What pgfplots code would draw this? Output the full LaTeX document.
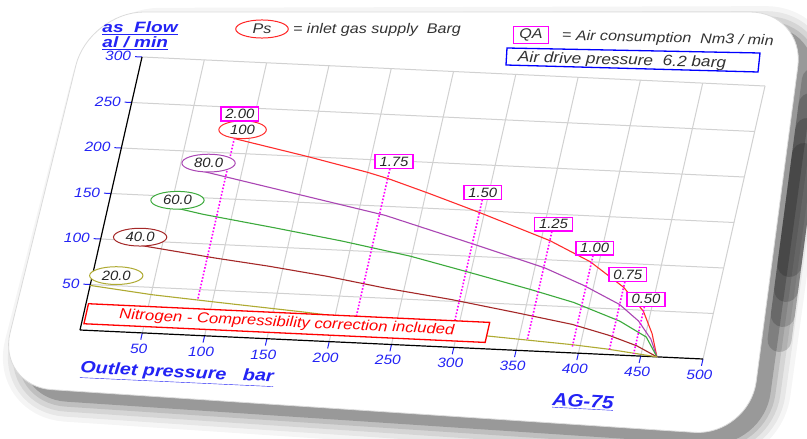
\documentclass[border=0pt]{standalone}
\usepackage{pgfplots}
\pgfplotsset{compat=1.18}
\usepackage{fontspec}
\setmainfont{Liberation Sans}
\usetikzlibrary{shapes.geometric}

\definecolor{tickblue}{RGB}{35,35,245}
\definecolor{c100}{RGB}{255,45,45}
\definecolor{c80}{RGB}{170,70,180}
\definecolor{c60}{RGB}{60,170,60}
\definecolor{c40}{RGB}{165,40,40}
\definecolor{c20}{RGB}{175,170,50}
\definecolor{qa}{RGB}{255,0,255}
\newcommand{\fs}[1]{\fontsize{#1}{#1}\selectfont}

\begin{document}
\begin{tikzpicture}[
  lab/.style={ellipse, fill=white, line width=1pt, inner xsep=4pt, inner ysep=1.5pt,
              font=\fs{13.5}\itshape, text=black!85, xscale=1.1},
  qabox/.style={rectangle, draw=qa, fill=white, line width=1.4pt, inner xsep=4pt,
              inner ysep=2.2pt, font=\fs{13.5}\itshape, text=black!85, xscale=1.1},
]
% card and its shadow, in picture pixels
\begin{scope}[x=1pt,y=-1pt]
  \useasboundingbox (0,0) rectangle (807,439);
  \clip (0,0) rectangle (807,439);
  \foreach \w/\o in {40/0.04,30/0.06,20/0.08,10/0.1} {
    \draw[black, opacity=\o, line width=\w pt, rounded corners=55pt, line join=round]
      (105,28) -- (821,26) -- (763,448) -- (11,398) -- cycle;
  }
  \fill[black!40, rounded corners=55pt] (105,28) -- (821,26) -- (763,448) -- (11,398) -- cycle;
  % darker shadow down the right side
  \foreach \a/\b in {80/340,105/315,130/290,155/265} {
    \draw[black, opacity=0.17, line width=24pt, line cap=round]
      (821-0.132*\a+3.4,\a) -- (821-0.132*\b+3.4,\b);
  }
  \fill[white, rounded corners=55pt] (89,12) -- (805,12) -- (749,436) -- (-3,386) -- cycle;
  \draw[black!14, line width=0.8pt, rounded corners=55pt] (89,12) -- (805,12) -- (749,436) -- (-3,386) -- cycle;
\end{scope}

% texts round the plot
\begin{scope}[x=1pt,y=-1pt]
  \node[anchor=west, font=\fs{15}\bfseries\itshape, text=tickblue, xscale=1.27] at (98,28) {\underline{as\ \ Flow}};
  \node[anchor=west, font=\fs{15}\bfseries\itshape, text=tickblue, xscale=1.27] at (98,43.5) {\underline{al / min}};
  \node[ellipse, draw=red!85, line width=1pt, inner xsep=8pt, inner ysep=1.5pt,
        font=\fs{14}\itshape, text=black!80, xscale=1.15] at (262,29) {Ps};
  \node[anchor=west, font=\fs{14}\itshape, text=black!80, xscale=1.15] at (289,30) {= inlet gas supply\ \ Barg};
  \node[draw=qa, line width=1.4pt, inner xsep=5pt, inner ysep=2.5pt,
        font=\fs{14}\itshape, text=black!80, xscale=1.15] at (531,35) {QA};
  \node[anchor=west, rotate=-1.5, font=\fs{14}\itshape, text=black!80, xscale=1.15] at (558,36) {= Air consumption\ \ Nm3 / min};
  \draw[blue, line width=1.3pt] (507,48) -- (760,53) -- (758,72) -- (506,65) -- cycle;
  \node[anchor=west, rotate=-1.5, font=\fs{15}\itshape, text=black!80, xscale=1.15] at (514,58) {Air drive pressure\ \ 6.2 barg};
  \node[font=\fs{16.5}\bfseries\itshape, text=tickblue, xscale=1.2, rotate=-3.2] at (177,374) {\underline{Outlet pressure\ \ \ bar}};
  \node[font=\fs{18}\bfseries\itshape, text=tickblue, xscale=1.15, rotate=-3.5] at (583,402) {\underline{AG-75}};
\end{scope}

\begin{axis}[
  anchor=origin, at={(80pt,-330pt)},
  x={(1.246pt,-0.058pt)}, y={(0.2067pt,0.91pt)},
  xmin=0, xmax=500, ymin=0, ymax=300,
  axis lines*=left,
  axis line style={black, line width=1.2pt},
  xtick={50,100,...,500}, ytick={50,100,...,300},
  xmajorgrids, ymajorgrids,
  major grid style={black!18, line width=1pt},
  tick align=outside,
  major tick length=7pt,
  tick style={tickblue, line width=1pt},
  tick label style={font=\fs{13.5}\itshape, text=tickblue, xscale=1.15},
  /pgf/number format/assume math mode=true,
  clip=false,
]
% Ps = 100
\addplot[c100, line width=1.1pt] coordinates {(88,216) (150,200) (200,186) (218,180) (253,166) (296,148) (357,121) (393,100) (424,74) (444,49) (455,25) (463,0)};
% Ps = 80
\addplot[c80, line width=1.1pt] coordinates {(68,179) (151,158) (222,140) (295,114) (358,91) (392,74) (424,55) (442,38) (455,19) (463,0)};
% Ps = 60
\addplot[c60, line width=1.1pt] coordinates {(48,139) (77,132) (136,121) (192,110) (249,97) (300,82) (350,67) (387,55) (427,37) (451,21) (463,0)};
% Ps = 40
\addplot[c40, line width=1.1pt] coordinates {(33,95) (95,85) (138,79) (186,71) (235,61) (289,52) (343,41) (390,31) (421,21) (445,11) (463,0)};
% Ps = 20
\addplot[c20, line width=1.1pt] coordinates {(0,49) (51,42) (105,37) (173,31) (250,23) (326,14) (393,9) (422,6) (463,0)};

% air consumption lines
\addplot[qa, line width=1.6pt, dash pattern=on 1.6pt off 1.8pt] coordinates {(88,235) (88,40)};
\addplot[qa, line width=1.6pt, dash pattern=on 1.6pt off 1.8pt] coordinates {(217,191) (217,26)};
\addplot[qa, line width=1.6pt, dash pattern=on 1.6pt off 1.8pt] coordinates {(296,162) (296,18)};
\addplot[qa, line width=1.6pt, dash pattern=on 1.6pt off 1.8pt] coordinates {(357,131) (357,11)};
\addplot[qa, line width=1.6pt, dash pattern=on 1.6pt off 1.8pt] coordinates {(394,107) (394,7)};
\addplot[qa, line width=1.6pt, dash pattern=on 1.6pt off 1.8pt] coordinates {(424,80) (424,4)};
\addplot[qa, line width=1.6pt, dash pattern=on 1.6pt off 1.8pt] coordinates {(444,54) (444,2)};

% note box
\fill[white] (axis cs:2,7) -- (axis cs:324,7) -- (axis cs:324,29) -- (axis cs:2,29) -- cycle;
\draw[red, line width=1.3pt] (axis cs:2,7) -- (axis cs:324,7) -- (axis cs:324,29) -- (axis cs:2,29) -- cycle;
\node[text=red, rotate=-2.7, font=\fs{14.5}\itshape, xscale=1.15] at (axis cs:163,18) {Nitrogen - Compressibility correction included};

% curve labels
\node[lab, draw=c20] at (axis cs:19,61) {20.0};
\node[lab, draw=c40] at (axis cs:31,104) {40.0};
\node[lab, draw=c60] at (axis cs:54,146) {60.0};
\node[lab, draw=c80] at (axis cs:72,188) {80.0};
\node[lab, draw=c100] at (axis cs:93,226) {100};

\node[qabox] at (axis cs:88,243) {2.00};
\node[qabox] at (axis cs:219,199) {1.75};
\node[qabox] at (axis cs:295,170) {1.50};
\node[qabox] at (axis cs:357,139) {1.25};
\node[qabox] at (axis cs:394,115) {1.00};
\node[qabox] at (axis cs:425,88) {0.75};
\node[qabox] at (axis cs:444,62) {0.50};
\end{axis}
\end{tikzpicture}
\end{document}
